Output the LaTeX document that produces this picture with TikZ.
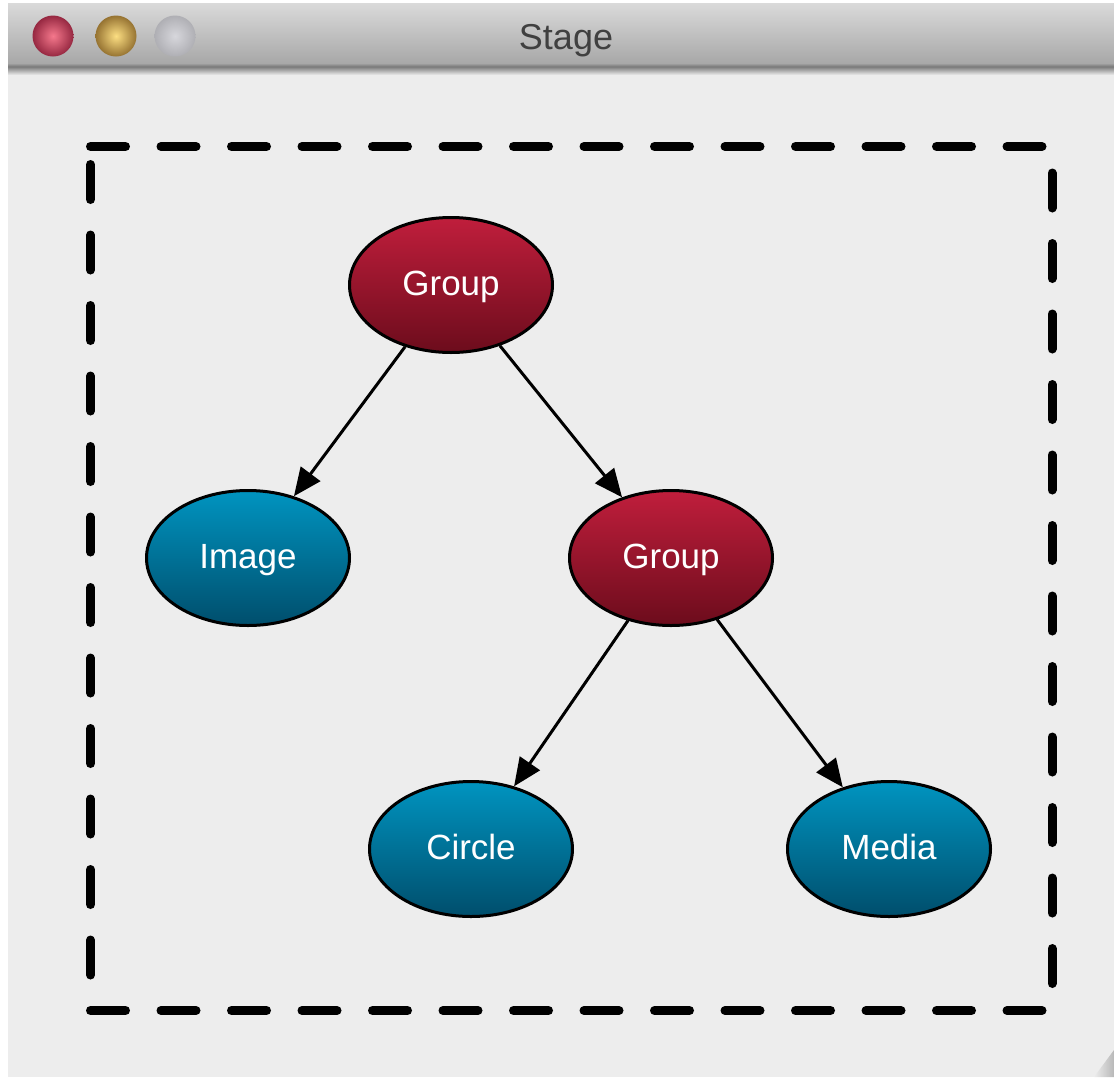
\documentclass[tikz,border=0pt]{standalone}
\usepackage{fontspec}
\setmainfont{Liberation Sans}
\usetikzlibrary{shapes.geometric,arrows.meta}
\definecolor{winbg}{RGB}{237,237,237}
\definecolor{redtop}{RGB}{192,30,60}
\definecolor{redbot}{RGB}{108,12,28}
\definecolor{bluetop}{RGB}{0,148,192}
\definecolor{bluebot}{RGB}{0,78,108}
\definecolor{bartop}{RGB}{218,218,218}
\definecolor{barbot}{RGB}{168,168,168}
\definecolor{closein}{RGB}{245,120,140}
\definecolor{closeout}{RGB}{150,40,65}
\definecolor{minin}{RGB}{252,222,130}
\definecolor{minout}{RGB}{150,115,50}
\definecolor{zoomin}{RGB}{215,215,220}
\definecolor{zoomout}{RGB}{175,175,180}
\tikzset{
  treenode/.style={ellipse,draw=black,line width=3pt,minimum width=203pt,minimum height=135pt,inner sep=0pt,text=white,text height=28pt,text depth=7pt,font=\fontsize{35}{40}\selectfont},
  groupnode/.style={treenode,top color=redtop,bottom color=redbot},
  leafnode/.style={treenode,top color=bluetop,bottom color=bluebot},
  edge/.style={draw=black,line width=3pt,-{Triangle[length=28pt,width=24pt]}},
  bounds/.style={draw=black,line width=9pt,line cap=round,dash pattern=on 35pt off 35.5pt},
  light/.style={circle,minimum size=41pt,inner sep=0pt}
}
\begin{document}
\begin{tikzpicture}[x=1pt,y=-1pt]
\useasboundingbox (0,0) rectangle (1114,1077);
\fill[white] (0,0) rectangle (1114,1077);
\fill[winbg] (8,3) rectangle (1114,1077);
% title bar
\shade[top color=bartop,bottom color=barbot] (8,3) rectangle (1114,63);
\shade[top color=barbot,bottom color=black!55] (8,63) rectangle (1114,67);
\shade[top color=black!50,bottom color=winbg] (8,67) rectangle (1114,75);
\node[light,inner color=closein,outer color=closeout] (closebtn) at (53,36) {};
\node[light,inner color=minin,outer color=minout] (minbtn) at (116,36) {};
\node[light,inner color=zoomin,outer color=zoomout] (zoombtn) at (175,36) {};
\node[text=black!75,font=\fontsize{36}{40}\selectfont] (title) at (566,41) {Stage};
% resize grip
\shade[left color=winbg,right color=black!28] (1114,1050) -- (1114,1077) -- (1094,1077) -- cycle;
% dashed bounds
\coordinate (tl) at (90.5,146.5);
\coordinate (tr) at (1043,146.5);
\coordinate (rt) at (1052,173);
\coordinate (rb) at (1052,1000);
\coordinate (lt) at (90.5,164.5);
\coordinate (lb) at (90.5,990);
\coordinate (bl) at (90.5,1010.5);
\coordinate (br) at (1043,1010.5);
\draw[bounds] (tl) -- (tr);
\draw[bounds] (rt) -- (rb);
\draw[bounds] (lt) -- (lb);
\draw[bounds] (bl) -- (br);
% tree
\node[groupnode] (g1) at (451,285) {Group};
\node[leafnode] (img) at (248,558) {Image};
\node[groupnode] (g2) at (671,558) {Group};
\node[leafnode] (circ) at (471,849) {Circle};
\node[leafnode] (media) at (889,849) {Media};
\draw[edge] (g1) -- (img);
\draw[edge] (g1) -- (g2);
\draw[edge] (g2) -- (circ);
\draw[edge] (g2) -- (media);
\end{tikzpicture}
\end{document}
